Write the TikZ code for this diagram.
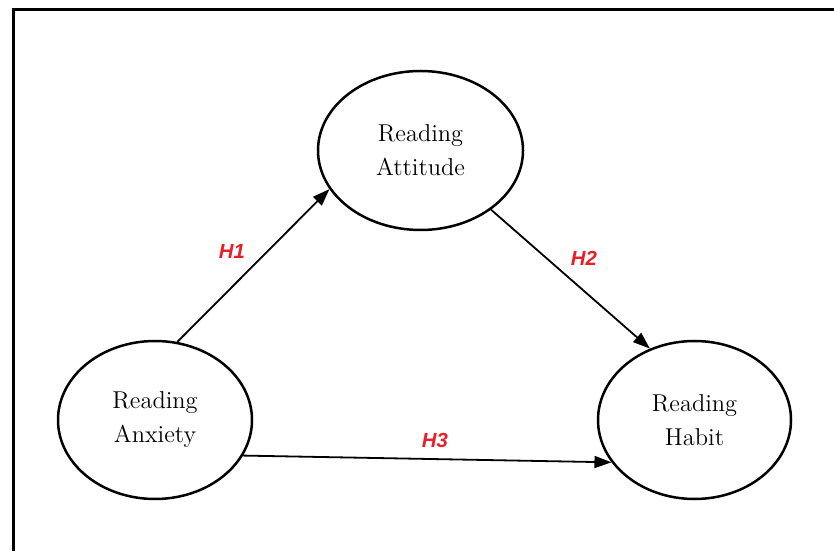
\documentclass[tikz,border=0pt]{standalone}
\usepackage{fontspec}
\newfontfamily\hypfont{Liberation Sans}
\usetikzlibrary{arrows.meta,shapes.geometric}
\definecolor{hypred}{RGB}{234,30,40}

\begin{document}
\begin{tikzpicture}[x=.5pt,y=.5pt,>={Triangle[length=8.5pt,width=6pt]},
  var/.style={draw,ellipse,line width=1.25pt,inner sep=0pt,align=center,
    font=\fontsize{12.2}{17}\selectfont},
  hyp/.style={text=hypred,font=\hypfont\bfseries\itshape\fontsize{10.2}{12}\selectfont}]
  \useasboundingbox (0,0) rectangle (834,551);
  \draw[line width=1.5pt] (13.5,0) -- (13.5,541) -- (834,541);
  % constructs
  \node (att) at (420.5,400.5) [var,minimum width=102.5pt,minimum height=79.5pt] {Reading\\Attitude};
  \node (anx) at (155,131) [var,minimum width=97pt,minimum height=79pt] {Reading\\Anxiety};
  \node (hab) at (694.5,131) [var,minimum width=96.5pt,minimum height=79pt] {Reading\\Habit};
  % paths
  \draw[->,line width=.9pt] (anx.74) -- (att.203);
  \draw[->,line width=.9pt] (att.320) -- (hab.122);
  \draw[->,line width=.9pt] (anx.338) -- (hab.207);
  \node (h1) at (232,300) [hyp] {H1};
  \node (h2) at (584,293) [hyp] {H2};
  \node (h3) at (435,111) [hyp] {H3};
\end{tikzpicture}
\end{document}
